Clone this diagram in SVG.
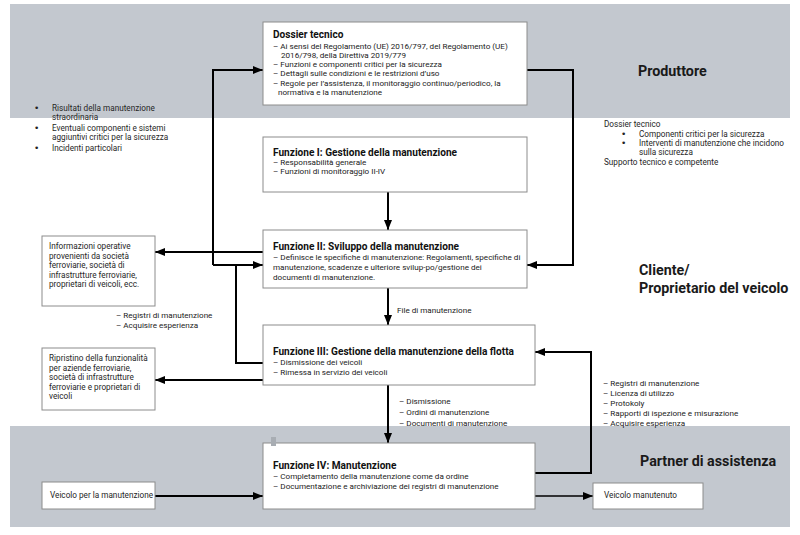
<svg xmlns="http://www.w3.org/2000/svg" width="800" height="535" viewBox="0 0 800 535">
<defs>
<style>
.band{fill:#c3c8cf}
.box{fill:#fff;stroke:#8c8c8c;stroke-width:1}
.t{font-family:Roboto,"Liberation Sans",sans-serif;font-size:8.1px;fill:#222}
.h{font-family:Roboto,"Liberation Sans",sans-serif;font-size:10.1px;font-weight:bold;fill:#111}
.n{font-family:Roboto,"Liberation Sans",sans-serif;font-size:8.2px;fill:#262626}
.b{font-family:"DejaVu Sans",sans-serif;font-size:9px;fill:#222}
.lbl{font-family:Roboto,"Liberation Sans",sans-serif;font-size:14.3px;font-weight:bold;fill:#1a1a1a}
.c{fill:none;stroke:#000;stroke-width:2}
</style>
<marker id="a" viewBox="0 0 10 8" refX="10" refY="4" markerWidth="10" markerHeight="8" markerUnits="userSpaceOnUse" orient="auto">
<path d="M0,0 L10,4 L0,8 z" fill="#000"/>
</marker>
</defs>
<rect x="0" y="0" width="800" height="535" fill="#fff"/>
<rect class="band" x="10" y="4" width="780" height="114"/>
<rect class="band" x="10" y="426" width="780" height="101"/>
<text class="lbl" x="638" y="76">Produttore</text>
<text class="lbl" x="639" y="275">Cliente/</text>
<text class="lbl" x="639" y="293">Proprietario del veicolo</text>
<text class="lbl" x="640" y="466">Partner di assistenza</text>

<g id="connectors">
<path class="c" d="M213,265 V70 H263" marker-end="url(#a)"/>
<path class="c" d="M213,265 H263" marker-end="url(#a)"/>
<path class="c" d="M263,363 H236 V265"/>
<path class="c" d="M527,70 H573 V265 H527" marker-end="url(#a)"/>
<path class="c" d="M263,252 H155" marker-end="url(#a)"/>
<path class="c" d="M263,380 H155" marker-end="url(#a)"/>
<path class="c" d="M388,192 V230" marker-end="url(#a)"/>
<path class="c" d="M388,288 V325" marker-end="url(#a)"/>
<path class="c" d="M388,385 V443" marker-end="url(#a)"/>
<path class="c" d="M535,473 H591 V352 H535" marker-end="url(#a)"/>
<path class="c" d="M535,496 H593" marker-end="url(#a)" style="stroke-width:1.5"/>
<path class="c" d="M155,496 H263" marker-end="url(#a)"/>
<text class="t" x="397" y="313">File di manutenzione</text>
<text class="t" x="399" y="404">– Dismissione</text>
<text class="t" x="399" y="415">– Ordini di manutenzione</text>
<text class="t" x="399" y="426">– Documenti di manutenzione</text>
<text class="t" x="603" y="386">– Registri di manutenzione</text>
<text class="t" x="603" y="396">– Licenza di utilizzo</text>
<text class="t" x="603" y="406">– Protokoly</text>
<text class="t" x="603" y="416">– Rapporti di ispezione e misurazione</text>
<text class="t" x="603" y="426">– Acquisire esperienza</text>
<text class="t" x="116" y="318">– Registri di manutenzione</text>
<text class="t" x="116" y="328">– Acquisire esperienza</text>
</g>

<g id="note-left">
<text class="b" x="34" y="111">•</text>
<text class="n" x="52" y="111">Risultati della manutenzione</text>
<text class="n" x="52" y="120">straordinaria</text>
<text class="b" x="34" y="131">•</text>
<text class="n" x="52" y="131">Eventuali componenti e sistemi</text>
<text class="n" x="52" y="140">aggiuntivi critici per la sicurezza</text>
<text class="b" x="34" y="151">•</text>
<text class="n" x="52" y="151">Incidenti particolari</text>
</g>

<g id="note-right">
<text class="n" x="604" y="127">Dossier tecnico</text>
<text class="b" x="621" y="137">•</text>
<text class="n" x="639" y="137">Componenti critici per la sicurezza</text>
<text class="b" x="621" y="146">•</text>
<text class="n" x="639" y="146">Interventi di manutenzione che incidono</text>
<text class="n" x="639" y="155">sulla sicurezza</text>
<text class="n" x="604" y="165">Supporto tecnico e competente</text>
</g>

<g id="dossier">
<rect class="box" x="263" y="22" width="264" height="83"/>
<text class="h" x="273" y="38">Dossier tecnico</text>
<text class="t" x="273" y="49">– Ai sensi del Regolamento (UE) 2016/797, del Regolamento (UE)</text>
<text class="t" x="281" y="58">2016/798, della Direttiva 2019/779</text>
<text class="t" x="273" y="67">– Funzioni e componenti critici per la sicurezza</text>
<text class="t" x="273" y="76">– Dettagli sulle condizioni e le restrizioni d’uso</text>
<text class="t" x="273" y="86">– Regole per l’assistenza, il monitoraggio continuo/periodico, la</text>
<text class="t" x="278" y="95">normativa e la manutenzione</text>
</g>

<g id="funzione1">
<rect class="box" x="263" y="137" width="264" height="55"/>
<text class="h" x="273" y="156">Funzione I: Gestione della manutenzione</text>
<text class="t" x="273" y="165">– Responsabilità generale</text>
<text class="t" x="273" y="174">– Funzioni di monitoraggio II-IV</text>
</g>

<g id="funzione2">
<rect class="box" x="263" y="230" width="264" height="58"/>
<text class="h" x="273" y="250">Funzione II: Sviluppo della manutenzione</text>
<text class="t" x="273" y="260">– Definisce le specifiche di manutenzione: Regolamenti, specifiche di</text>
<text class="t" x="273" y="270">manutenzione, scadenze e ulteriore svilup-po/gestione dei</text>
<text class="t" x="273" y="280">documenti di manutenzione.</text>
</g>

<g id="funzione3">
<rect class="box" x="263" y="325" width="272" height="60"/>
<text class="h" x="273" y="355">Funzione III: Gestione della manutenzione della flotta</text>
<text class="t" x="273" y="365">– Dismissione dei veicoli</text>
<text class="t" x="273" y="375">– Rimessa in servizio dei veicoli</text>
</g>

<g id="funzione4">
<rect class="box" x="263" y="443" width="272" height="66"/>
<rect x="271" y="437" width="5" height="9" fill="#a8adb3"/>
<text class="h" x="273" y="469">Funzione IV: Manutenzione</text>
<text class="t" x="273" y="479">– Completamento della manutenzione come da ordine</text>
<text class="t" x="273" y="489">– Documentazione e archiviazione dei registri di manutenzione</text>
</g>

<g id="info-operative">
<rect class="box" x="42" y="236" width="113" height="70"/>
<text class="n" x="49" y="249">Informazioni operative</text>
<text class="n" x="49" y="258.5">provenienti da società</text>
<text class="n" x="49" y="268">ferroviarie, società di</text>
<text class="n" x="49" y="277.5">infrastrutture ferroviarie,</text>
<text class="n" x="49" y="287">proprietari di veicoli, ecc.</text>
</g>

<g id="ripristino">
<rect class="box" x="42" y="348" width="113" height="62"/>
<text class="n" x="49" y="361">Ripristino della funzionalità</text>
<text class="n" x="49" y="370.5">per aziende ferroviarie,</text>
<text class="n" x="49" y="380">società di infrastrutture</text>
<text class="n" x="49" y="389.5">ferroviarie e proprietari di</text>
<text class="n" x="49" y="399">veicoli</text>
</g>

<g id="veicolo-in">
<rect class="box" x="42" y="482" width="113" height="27"/>
<text class="n" x="50" y="498">Veicolo per la manutenzione</text>
</g>

<g id="veicolo-out">
<rect class="box" x="593" y="483" width="110" height="26"/>
<text class="n" x="604" y="498">Veicolo manutenuto</text>
</g>
</svg>
